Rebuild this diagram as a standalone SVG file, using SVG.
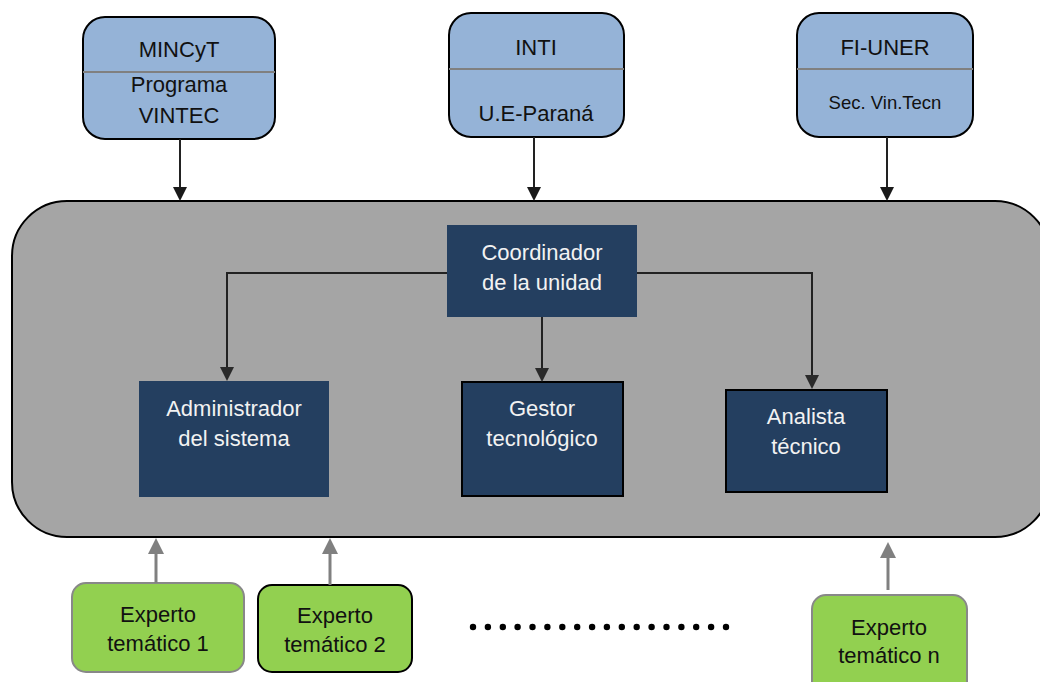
<svg xmlns="http://www.w3.org/2000/svg" width="1040" height="682" viewBox="0 0 1040 682">
<style>
.top{fill:#95b3d7;stroke:#000;stroke-width:2}
.div{stroke:#808080;stroke-width:2}
.dark{fill:#243f60}
.dkb{fill:#243f60;stroke:#000;stroke-width:2}
.green{fill:#92d050;stroke-width:2}
.t{font-family:"Liberation Sans",Arial,sans-serif;text-anchor:middle;dominant-baseline:central}
.bk{fill:#111;font-size:22px}
.wh{fill:#f2f2f2;font-size:22px}
.ln{fill:none;stroke:#222;stroke-width:2}
.gl{fill:none;stroke:#808080;stroke-width:3}
</style>
<g id="container"><rect x="12" y="201" width="1038" height="336" rx="55" ry="55" fill="#a5a5a5" stroke="#000" stroke-width="2"/></g>
<g id="mincyt">
<rect class="top" x="83" y="17" width="192" height="122" rx="22"/>
<line class="div" x1="83" y1="72" x2="275" y2="72"/>
<text class="t bk" x="179" y="49">MINCyT</text>
<text class="t bk" x="179" y="84">Programa</text>
<text class="t bk" x="179" y="115">VINTEC</text>
</g>
<g id="inti">
<rect class="top" x="449" y="13" width="175" height="124" rx="22"/>
<line class="div" x1="449" y1="69" x2="624" y2="69"/>
<text class="t bk" x="536" y="47">INTI</text>
<text class="t bk" x="536" y="113">U.E-Paraná</text>
</g>
<g id="fiuner">
<rect class="top" x="797" y="13" width="176" height="124" rx="22"/>
<line class="div" x1="797" y1="69" x2="973" y2="69"/>
<text class="t bk" x="885" y="47">FI-UNER</text>
<text class="t" style="fill:#111;font-size:18.5px" x="885" y="102">Sec. Vin.Tecn</text>
</g>
<g id="coordinador">
<rect class="dark" x="447" y="225" width="190" height="92"/>
<text class="t wh" x="542" y="252">Coordinador</text>
<text class="t wh" x="542" y="282">de la unidad</text>
</g>
<g id="administrador">
<rect class="dark" x="139" y="381" width="190" height="116"/>
<text class="t wh" x="234" y="408">Administrador</text>
<text class="t wh" x="234" y="438">del sistema</text>
</g>
<g id="gestor">
<rect class="dkb" x="462" y="382" width="161" height="114"/>
<text class="t wh" x="542" y="408">Gestor</text>
<text class="t wh" x="542" y="438">tecnológico</text>
</g>
<g id="analista">
<rect class="dkb" x="726" y="390" width="161" height="102"/>
<text class="t wh" x="806" y="416">Analista</text>
<text class="t wh" x="806" y="446">técnico</text>
</g>
<g id="experto1">
<rect class="green" stroke="#888" x="72" y="583" width="172" height="89" rx="14"/>
<text class="t bk" x="158" y="614">Experto</text>
<text class="t bk" x="158" y="643">temático 1</text>
</g>
<g id="experto2">
<rect class="green" stroke="#000" x="258" y="585" width="154" height="87" rx="14"/>
<text class="t bk" x="335" y="615">Experto</text>
<text class="t bk" x="335" y="644">temático 2</text>
</g>
<g id="expertoN">
<rect class="green" stroke="#888" x="812" y="595" width="155" height="100" rx="14"/>
<text class="t bk" x="889" y="627">Experto</text>
<text class="t bk" x="889" y="655">temático n</text>
</g>
<g id="dots" fill="#000">
<circle cx="473" cy="627" r="3.2"/><circle cx="487.9" cy="627" r="3.2"/><circle cx="502.8" cy="627" r="3.2"/><circle cx="517.6" cy="627" r="3.2"/><circle cx="532.5" cy="627" r="3.2"/><circle cx="547.4" cy="627" r="3.2"/><circle cx="562.3" cy="627" r="3.2"/><circle cx="577.2" cy="627" r="3.2"/><circle cx="592.1" cy="627" r="3.2"/><circle cx="606.9" cy="627" r="3.2"/><circle cx="621.8" cy="627" r="3.2"/><circle cx="636.7" cy="627" r="3.2"/><circle cx="651.6" cy="627" r="3.2"/><circle cx="666.5" cy="627" r="3.2"/><circle cx="681.4" cy="627" r="3.2"/><circle cx="696.2" cy="627" r="3.2"/><circle cx="711.1" cy="627" r="3.2"/><circle cx="726" cy="627" r="3.2"/>
</g>
<g id="connectors">
<path class="ln" d="M180,139 V188"/>
<path d="M173,187 H187 L180,201 Z" fill="#1a1a1a"/>
<path class="ln" d="M534,137 V188"/>
<path d="M527,187 H541 L534,201 Z" fill="#1a1a1a"/>
<path class="ln" d="M887,137 V188"/>
<path d="M880,187 H894 L887,201 Z" fill="#1a1a1a"/>
<path class="ln" d="M447,273 H227 V368"/>
<path d="M220,367 H234 L227,381 Z" fill="#2a2a2a"/>
<path class="ln" d="M542,317 V369"/>
<path d="M535,368 H549 L542,382 Z" fill="#2a2a2a"/>
<path class="ln" d="M637,273 H812 V376"/>
<path d="M805,375 H819 L812,389 Z" fill="#2a2a2a"/>
<path class="gl" d="M156,583 V552"/>
<path d="M148,554 H164 L156,538 Z" fill="#808080"/>
<path class="gl" d="M330,585 V552"/>
<path d="M322,554 H338 L330,538 Z" fill="#808080"/>
<path class="gl" d="M888,590 V557"/>
<path d="M880,558 H896 L888,542 Z" fill="#808080"/>
</g>
</svg>
